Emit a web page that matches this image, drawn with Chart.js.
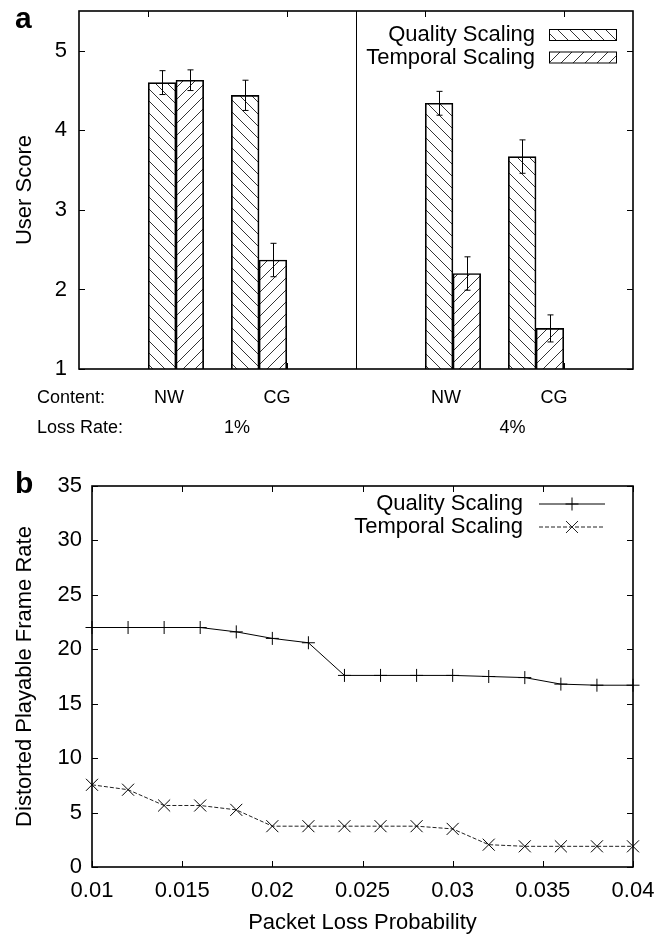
<!DOCTYPE html>
<html>
<head>
<meta charset="utf-8">
<script src="https://cdn.jsdelivr.net/npm/chart.js@4.4.1/dist/chart.umd.min.js"></script>
<style>
  body { margin: 0; background: #fff; }
  canvas { position: absolute; left: 0; }
  #cA { top: 0; }
  #cB { top: 440px; }
</style>
</head>
<body>
<canvas id="cA" width="667" height="440"></canvas>
<canvas id="cB" width="667" height="498"></canvas>
<script>
// (a) user score per group
var groupX = [0.2, 0.8, 2.2, 2.8];
var contentLabels = ['NW', 'CG', 'NW', 'CG'];
var contentLabelX = [0.15, 0.93, 2.15, 2.93];
var lossRates = ['1%', '4%'];
var lossRateX = [0.64, 2.63];
var qualityScore = [4.60, 4.44, 4.34, 3.67];
var qualityErr = [0.15, 0.19, 0.15, 0.21];
var temporalScore = [4.63, 2.37, 2.20, 1.51];
var temporalErr = [0.13, 0.21, 0.21, 0.17];
var groupTicks = [0, 1, 2, 3];
var groupDivider = 1.5;

// (b) frame rate vs loss probability
var lossProb = [0.01, 0.012, 0.014, 0.016, 0.018, 0.02, 0.022, 0.024, 0.026, 0.028, 0.03, 0.032, 0.034, 0.036, 0.038, 0.04];
var qualityFps = [22.0, 22.0, 22.0, 22.0, 21.6, 21.0, 20.6, 17.6, 17.6, 17.6, 17.6, 17.5, 17.4, 16.8, 16.7, 16.7];
var temporalFps = [7.55, 7.1, 5.65, 5.65, 5.25, 3.75, 3.75, 3.75, 3.75, 3.75, 3.5, 2.05, 1.9, 1.9, 1.9, 1.9];
var probTicks = [0.01, 0.015, 0.02, 0.025, 0.03, 0.035, 0.04];
var probTickLabels = ['0.01', '0.015', '0.02', '0.025', '0.03', '0.035', '0.04'];

var FONT = "'Liberation Sans', Arial, Helvetica, sans-serif";
Chart.defaults.font.family = FONT;
Chart.defaults.color = '#000';

//hatch patterns
function hatch(dir){
    var s = 12;
    var c = document.createElement('canvas');
    c.width = s; c.height = s;
    var g = c.getContext('2d');
    g.strokeStyle = '#000';
    g.lineWidth = 0.8;
    g.beginPath();
    if(dir > 0){
        g.moveTo(0, s); g.lineTo(s, 0);
        g.moveTo(-1, 1); g.lineTo(1, -1);
        g.moveTo(s - 1, s + 1); g.lineTo(s + 1, s - 1);
    }else{
        g.moveTo(0, 0); g.lineTo(s, s);
        g.moveTo(-1, s - 1); g.lineTo(1, s + 1);
        g.moveTo(s - 1, -1); g.lineTo(s + 1, 1);
    }
    g.stroke();
    return c.getContext('2d').createPattern(c, 'repeat');
}
var backHatch = hatch(-1), fwdHatch = hatch(1);

function pts(xs, ys){
    return xs.map(function(x, i){ return {x: x, y: ys[i]}; });
}

//frame + inward ticks, labels, legend
var framePlugin = {
    id: 'frame',
    afterDraw: function(chart, args, o){
        var ctx = chart.ctx, a = chart.chartArea;
        var xs = chart.scales.x, ys = chart.scales.y;
        var t = 6;
        ctx.save();
        ctx.strokeStyle = '#000';
        ctx.lineWidth = 1;
        ctx.beginPath();
        ys.ticks.forEach(function(tk){
            var y = Math.round(ys.getPixelForValue(tk.value)) + 0.5;
            ctx.moveTo(a.left, y); ctx.lineTo(a.left + t, y);
            ctx.moveTo(a.right, y); ctx.lineTo(a.right - t, y);
        });
        (o.xTicks || xs.ticks.map(function(tk){ return tk.value; })).forEach(function(v){
            var x = Math.round(xs.getPixelForValue(v)) + 0.5;
            ctx.moveTo(x, a.top); ctx.lineTo(x, a.top + t);
            ctx.moveTo(x, a.bottom); ctx.lineTo(x, a.bottom - t);
        });
        if(o.divider != null){
            var dx = Math.round(xs.getPixelForValue(o.divider)) + 0.5;
            ctx.moveTo(dx, a.top); ctx.lineTo(dx, a.bottom);
        }
        ctx.stroke();
        ctx.lineWidth = 1.6;
        ctx.strokeRect(a.left, a.top, a.right - a.left, a.bottom - a.top);
        //panel letter
        ctx.fillStyle = '#000';
        ctx.font = 'bold 30px ' + FONT;
        ctx.textAlign = 'left';
        ctx.textBaseline = 'alphabetic';
        ctx.fillText(o.letter, 15, o.letterY);
        //legend
        ctx.font = '22px ' + FONT;
        ctx.textAlign = 'right';
        ctx.textBaseline = 'middle';
        chart.data.datasets.forEach(function(ds, i){
            var y = o.legendY[i];
            ctx.fillText(ds.label, o.legendText, y);
            if(chart.config.type == 'bar'){
                ctx.fillStyle = ds.backgroundColor;
                ctx.fillRect(o.legendX0, y - 5.5, o.legendX1 - o.legendX0, 11);
                ctx.fillStyle = '#000';
                ctx.lineWidth = 1;
                ctx.strokeRect(o.legendX0 + 0.5, y - 5.5, o.legendX1 - o.legendX0, 11);
            }else{
                ctx.lineWidth = 1;
                ctx.strokeStyle = ds.borderColor;
                ctx.setLineDash(ds.borderDash || []);
                ctx.beginPath();
                ctx.moveTo(o.legendX0, y + 0.5); ctx.lineTo(o.legendX1, y + 0.5);
                ctx.stroke();
                ctx.setLineDash([]);
                Chart.helpers.drawPoint(ctx, {pointStyle: ds.pointStyle, radius: ds.pointRadius, borderWidth: 1},
                    (o.legendX0 + o.legendX1) / 2, y + 0.5);
                ctx.strokeStyle = '#000';
            }
        });
        ctx.restore();
    }
};

//error bars and category rows for (a)
var errPlugin = {
    id: 'errbars',
    afterDatasetsDraw: function(chart){
        var ctx = chart.ctx, ys = chart.scales.y, xs = chart.scales.x;
        var errs = [qualityErr, temporalErr];
        ctx.save();
        ctx.strokeStyle = '#000';
        ctx.lineWidth = 1;
        ctx.beginPath();
        chart.data.datasets.forEach(function(ds, i){
            chart.getDatasetMeta(i).data.forEach(function(bar, j){
                var v = ds.data[j].y, e = errs[i][j];
                var x = Math.round(bar.x) + 0.5;
                var y1 = ys.getPixelForValue(v + e), y2 = ys.getPixelForValue(v - e);
                ctx.moveTo(x, y1); ctx.lineTo(x, y2);
                ctx.moveTo(x - 3, y1); ctx.lineTo(x + 3, y1);
                ctx.moveTo(x - 3, y2); ctx.lineTo(x + 3, y2);
            });
        });
        ctx.stroke();
        //rows under the axis
        ctx.fillStyle = '#000';
        ctx.font = '18px ' + FONT;
        ctx.textBaseline = 'middle';
        ctx.textAlign = 'left';
        ctx.fillText('Content:', 37, 398);
        ctx.fillText('Loss Rate:', 37, 428);
        ctx.textAlign = 'center';
        contentLabels.forEach(function(l, i){
            ctx.fillText(l, xs.getPixelForValue(contentLabelX[i]), 398);
        });
        lossRates.forEach(function(l, i){
            ctx.fillText(l, xs.getPixelForValue(lossRateX[i]), 428);
        });
        ctx.restore();
    }
};

new Chart(document.getElementById('cA'), {
    type: 'bar',
    data: {
        datasets: [
            { label: 'Quality Scaling', data: pts(groupX, qualityScore), backgroundColor: backHatch,
              borderColor: '#000', borderWidth: 1, base: 1, barThickness: 27.7 },
            { label: 'Temporal Scaling', data: pts(groupX, temporalScore), backgroundColor: fwdHatch,
              borderColor: '#000', borderWidth: 1, base: 1, barThickness: 27.7 }
        ]
    },
    options: {
        responsive: false,
        animation: false,
        layout: { padding: { top: 11, right: 34, left: 0, bottom: 0 } },
        plugins: {
            legend: { display: false },
            tooltip: { enabled: false },
            frame: { letter: 'a', letterY: 28, xTicks: groupTicks, divider: groupDivider,
                     legendText: 535, legendY: [35, 57.5], legendX0: 549, legendX1: 616 }
        },
        scales: {
            x: {
                type: 'linear', min: -0.5, max: 3.5, offset: false,
                grid: { display: false, drawTicks: false }, border: { display: false },
                ticks: { display: false, stepSize: 1 },
                afterFit: function(s){ s.height = 71; s.paddingLeft = 0; s.paddingRight = 0; }
            },
            y: {
                min: 1, max: 5.5,
                grid: { display: false, drawTicks: false }, border: { display: false },
                ticks: { stepSize: 1, padding: 12, font: { size: 22 } },
                title: { display: true, text: 'User Score', font: { size: 22 }, padding: { top: 12, bottom: 0 } },
                afterBuildTicks: function(s){ s.ticks = s.ticks.filter(function(t){ return Number.isInteger(t.value); }); },
                afterFit: function(s){ s.width = 79; s.paddingTop = 0; s.paddingBottom = 0; }
            }
        }
    },
    plugins: [errPlugin, framePlugin]
});

new Chart(document.getElementById('cB'), {
    type: 'line',
    data: {
        datasets: [
            { label: 'Quality Scaling', data: pts(lossProb, qualityFps), borderColor: '#000', borderWidth: 1,
              pointStyle: 'cross', pointRadius: 6.5, pointBorderColor: '#000', pointBorderWidth: 1,
              fill: false, tension: 0, clip: false },
            { label: 'Temporal Scaling', data: pts(lossProb, temporalFps), borderColor: '#222', borderWidth: 1,
              borderDash: [4, 2], pointStyle: 'crossRot', pointRadius: 8.5, pointBorderColor: '#000',
              pointBorderWidth: 1, fill: false, tension: 0, clip: false }
        ]
    },
    options: {
        responsive: false,
        animation: false,
        layout: { padding: { top: 46, right: 34, left: 0, bottom: 0 } },
        plugins: {
            legend: { display: false },
            tooltip: { enabled: false },
            frame: { letter: 'b', letterY: 53, legendText: 523, legendY: [63.5, 86.5], legendX0: 539, legendX1: 605 }
        },
        scales: {
            x: {
                type: 'linear', min: 0.01, max: 0.04,
                grid: { display: false, drawTicks: false }, border: { display: false },
                ticks: { padding: 11, font: { size: 22 }, maxRotation: 0,
                         callback: function(v, i){ return probTickLabels[i]; } },
                title: { display: true, text: 'Packet Loss Probability', font: { size: 22 }, padding: { top: 0, bottom: 2 } },
                afterBuildTicks: function(s){ s.ticks = probTicks.map(function(v){ return {value: v}; }); },
                afterFit: function(s){ s.height = 71; s.paddingLeft = 0; s.paddingRight = 0; }
            },
            y: {
                min: 0, max: 35,
                grid: { display: false, drawTicks: false }, border: { display: false },
                ticks: { stepSize: 5, padding: 10, font: { size: 22 } },
                title: { display: true, text: 'Distorted Playable Frame Rate', font: { size: 22 }, padding: { top: 12, bottom: 0 } },
                afterFit: function(s){ s.width = 92; s.paddingTop = 0; s.paddingBottom = 0; }
            }
        }
    },
    plugins: [framePlugin]
});
</script>
</body>
</html>
